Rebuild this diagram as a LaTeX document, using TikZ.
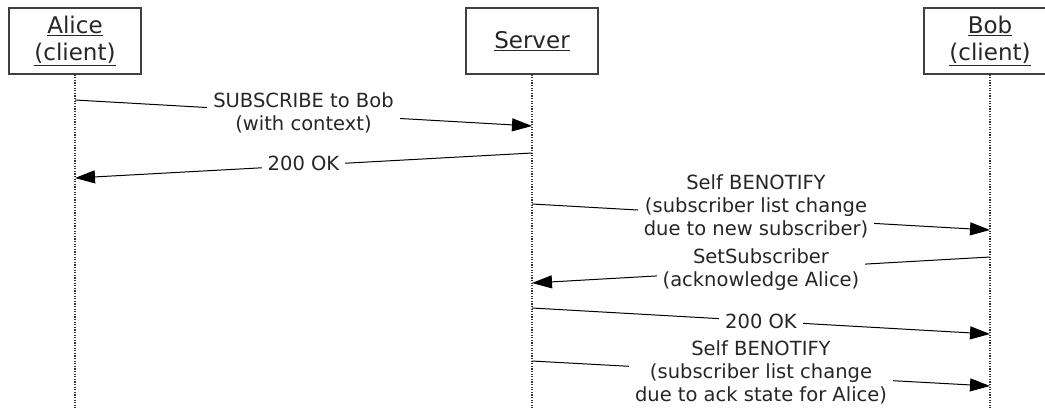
\documentclass[tikz,border=0pt]{standalone}
\usepackage{fontspec}
\setmainfont{DejaVu Sans}
\usetikzlibrary{arrows.meta, positioning}

\begin{document}
\begin{tikzpicture}[
    x=1pt, y=-1pt,
    actor/.style={rectangle, draw=black!75, line width=1.2pt, fill=white, minimum width=132pt, minimum height=66pt, align=center, inner sep=0pt, text=black!85, font=\fontsize{23}{27}\selectfont},
    lifeline/.style={line width=1.2pt, dash pattern=on 1.2pt off 1.4pt, black!80},
    msg/.style={-{Triangle[length=20pt,width=13pt]}, line width=1pt},
    lbl/.style={fill=white, inner xsep=6pt, inner ysep=2pt, align=center, text=black!85, font=\fontsize{19.5}{23}\selectfont}
]
\useasboundingbox (0,0) rectangle (1045,408);
\clip (0,0) rectangle (1045,408);

% Participants
\node[actor] (alice) at (75,41) {\underline{Alice}\\\underline{(client)}};
\node[actor] (server) at (532,41) {\underline{Server}};
\node[actor] (bob) at (990,41) {\underline{Bob}\\\underline{(client)}};

% Lifelines
\coordinate (alice-end) at (75,408);
\coordinate (server-end) at (532,408);
\coordinate (bob-end) at (990,408);
\draw[lifeline] (alice) -- (alice-end);
\draw[lifeline] (server) -- (server-end);
\draw[lifeline] (bob) -- (bob-end);

% Message end points
\coordinate (a1) at (75,100);  \coordinate (s1) at (532,126);
\coordinate (s2) at (532,153); \coordinate (a2) at (75,178);
\coordinate (s3) at (532,204); \coordinate (b3) at (990,230);
\coordinate (b4) at (990,257); \coordinate (s4) at (532,283);
\coordinate (s5) at (532,308); \coordinate (b5) at (990,334);
\coordinate (s6) at (532,361); \coordinate (b6) at (990,386);

% Messages
\draw[msg] (a1) -- node[lbl] {SUBSCRIBE to Bob\\(with context)} (s1);
\draw[msg] (s2) -- node[lbl, yshift=2pt] {200 OK} (a2);
\draw[msg] (s3) -- node[lbl, xshift=-5pt, yshift=11pt] {Self BENOTIFY\\(subscriber list change\\due to new subscriber)} (b3);
\draw[msg] (b4) -- node[lbl] {SetSubscriber\\(acknowledge Alice)} (s4);
\draw[msg] (s5) -- node[lbl] {200 OK} (b5);
\draw[msg] (s6) -- node[lbl, yshift=1pt] {Self BENOTIFY\\(subscriber list change\\due to ack state for Alice)} (b6);
\end{tikzpicture}
\end{document}
